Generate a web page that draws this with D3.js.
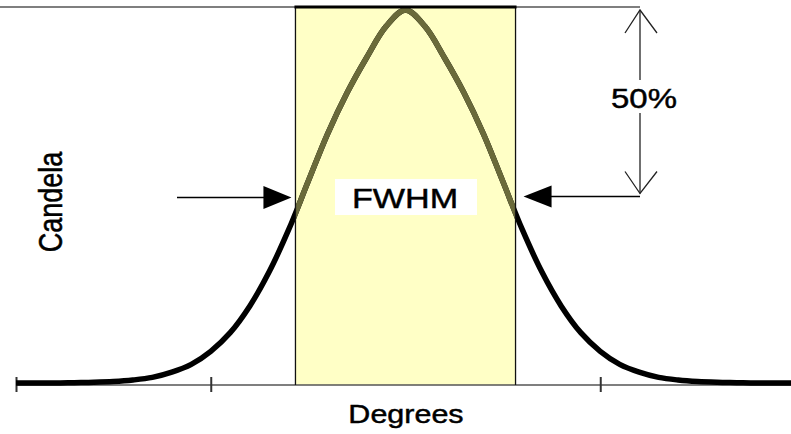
<!DOCTYPE html>
<html><head><meta charset="utf-8">
<script src="https://cdn.jsdelivr.net/npm/d3@7"></script>
<style>
html,body{margin:0;padding:0;background:#fff;}
svg{display:block;font-family:"Liberation Sans",Arial,sans-serif;}
</style></head>
<body>
<svg id="chart" width="791" height="434"></svg>
<script>
// ---- data ----
const degrees = [-20,-19,-18,-17,-16,-15,-14,-13,-12,-11,-10,-9,-8,-7,-6,-5,-4,-3,-2,-1,0,
                 1,2,3,4,5,6,7,8,9,10,11,12,13,14,15,16,17,18,19,20];
const candela = [0,0,0,0.1,0.2,0.4,0.8,1.5,2.9,5.0,8.5,13.5,20.6,29.8,41.1,54.0,66.8,77.8,87.2,95.6,100,
                 95.6,87.2,77.8,66.8,54.0,41.1,29.8,20.6,13.5,8.5,5.0,2.9,1.5,0.8,0.4,0.2,0.1,0,0,0];
const tickValues = [-20,-10,10];
const fwhmEdges = [-5.65, 5.65];
const halfLevel = 50;
const peakLevel = 100;
const labels = {x:"Degrees", y:"Candela", band:"FWHM", half:"50%"};

// ---- scales ----
const svg = d3.select("#chart");
const W = 791;
const x = d3.scaleLinear().domain([-20,20]).range([16,795]);
const y = d3.scaleLinear().domain([0,100]).range([383,10]);
const axisY = 385;
const stretch = 1.22;

const pts = degrees.map((d,i)=>[d,candela[i]]);
const line = d3.line().x(d=>x(d[0])).y(d=>y(d[1])).curve(d3.curveCatmullRom.alpha(0.5));

const topY = y(peakLevel) - 3;
const halfY = y(halfLevel);
const rx0 = x(fwhmEdges[0]), rx1 = x(fwhmEdges[1]);
const arrowX = 640;

// top reference line
svg.append("line").attr("x1",0).attr("x2",arrowX).attr("y1",topY).attr("y2",topY)
  .attr("stroke","#555").attr("stroke-width",1.3);

// FWHM band
svg.append("rect").attr("x",rx0).attr("y",topY).attr("width",rx1-rx0).attr("height",axisY-topY)
  .attr("fill","#ffffc6");

// axis line
svg.append("line").attr("x1",17).attr("x2",W).attr("y1",axisY).attr("y2",axisY)
  .attr("stroke","#555").attr("stroke-width",1.5);

// ticks through d3 axis
const axis = d3.axisBottom(x).tickValues(tickValues).tickSize(15).tickFormat("");
const ag = svg.append("g").attr("transform",`translate(0,${axisY-8})`).call(axis);
ag.select(".domain").remove();
ag.selectAll(".tick line").attr("stroke","#333").attr("stroke-width",2);

// curve (black)
svg.append("path").datum(pts).attr("d",line).attr("fill","none")
  .attr("stroke","#000").attr("stroke-width",5.5).attr("stroke-linejoin","round");

// curve inside band (olive dithered look)
svg.append("clipPath").attr("id","bandclip").append("rect")
  .attr("x",rx0).attr("y",0).attr("width",rx1-rx0).attr("height",axisY);
svg.append("path").datum(pts).attr("d",line).attr("fill","none")
  .attr("clip-path","url(#bandclip)")
  .attr("stroke","#6a6a3a").attr("stroke-width",5.5);

// band border
svg.append("line").attr("x1",rx0).attr("x2",rx0).attr("y1",topY).attr("y2",axisY)
  .attr("stroke","#111").attr("stroke-width",1.3);
svg.append("line").attr("x1",rx1).attr("x2",rx1).attr("y1",topY).attr("y2",axisY)
  .attr("stroke","#111").attr("stroke-width",1.3);
svg.append("line").attr("x1",rx0-1).attr("x2",rx1+1).attr("y1",topY).attr("y2",topY)
  .attr("stroke","#000").attr("stroke-width",2.8);

const textStyle = s => s.attr("fill","#000").attr("stroke","#000").attr("stroke-width",0.45);

// FWHM label with white box
svg.append("rect").attr("x",335).attr("y",179).attr("width",142).attr("height",36).attr("fill","#fff");
svg.append("text").attr("transform",`translate(405,208) scale(${stretch},1)`)
  .attr("text-anchor","middle").attr("font-size",28).call(textStyle).text(labels.band);

// left arrow
const ay = halfY + 1;
svg.append("line").attr("x1",177).attr("x2",265).attr("y1",ay).attr("y2",ay)
  .attr("stroke","#000").attr("stroke-width",1.3);
const lt = rx0 - 4;
svg.append("path").attr("d",`M${lt},${ay} L${lt-28},${ay-11.5} L${lt-28},${ay+11.5} Z`).attr("fill","#000");

// right arrow
const rt = rx1 + 8;
svg.append("line").attr("x1",rt+26).attr("x2",arrowX).attr("y1",ay-1).attr("y2",ay-1)
  .attr("stroke","#000").attr("stroke-width",1.3);
svg.append("path").attr("d",`M${rt},${ay-1} L${rt+28},${ay-12} L${rt+28},${ay+10} Z`).attr("fill","#000");

// vertical 50% arrow
const vTop = topY + 3, vBot = halfY - 3;
svg.append("line").attr("x1",arrowX).attr("x2",arrowX).attr("y1",vTop).attr("y2",80)
  .attr("stroke","#222").attr("stroke-width",1.3);
svg.append("line").attr("x1",arrowX).attr("x2",arrowX).attr("y1",113).attr("y2",vBot)
  .attr("stroke","#222").attr("stroke-width",1.3);
svg.append("path").attr("d",`M${arrowX-15},${vTop+23} L${arrowX},${vTop} L${arrowX+17},${vTop+23}`)
  .attr("fill","none").attr("stroke","#222").attr("stroke-width",1.3);
svg.append("path").attr("d",`M${arrowX-15},${vBot-22} L${arrowX},${vBot} L${arrowX+17},${vBot-22}`)
  .attr("fill","none").attr("stroke","#222").attr("stroke-width",1.3);
svg.append("text").attr("transform",`translate(644,108) scale(${stretch},1)`)
  .attr("text-anchor","middle").attr("font-size",27).call(textStyle).text(labels.half);

// axis titles
svg.append("text").attr("transform",`translate(406,423) scale(${stretch},1)`)
  .attr("text-anchor","middle").attr("font-size",25).call(textStyle).text(labels.x);
svg.append("text").attr("transform",`translate(62,202) scale(${stretch},1) rotate(-90)`)
  .attr("text-anchor","middle").attr("font-size",27).call(textStyle).text(labels.y);
</script>
</body></html>
